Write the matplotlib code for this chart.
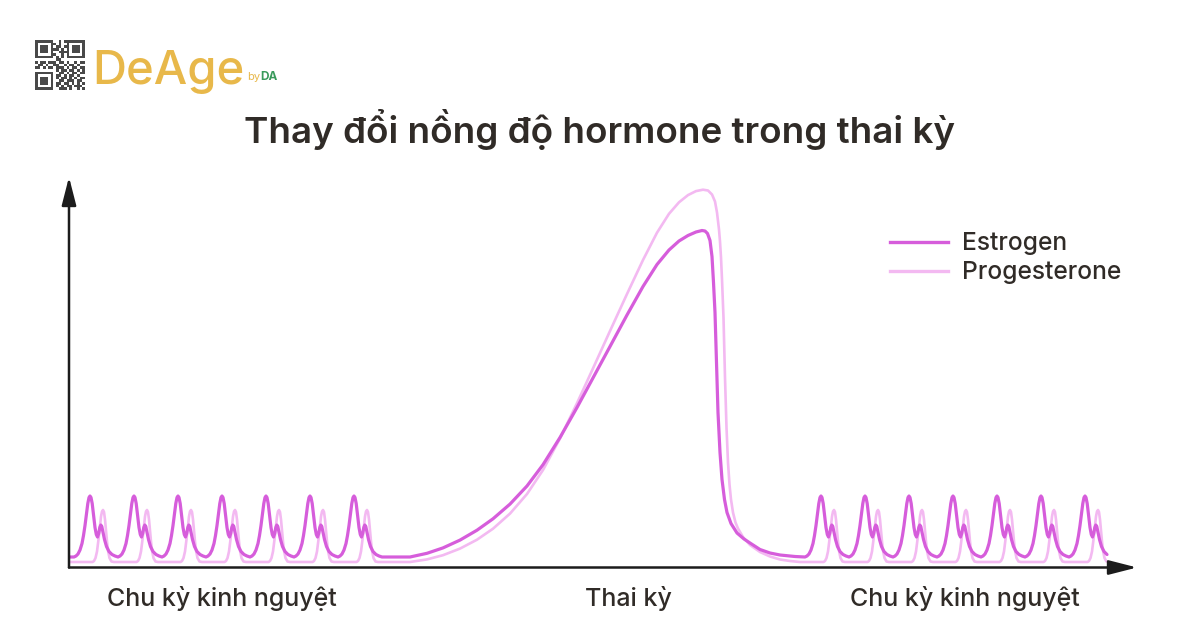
import numpy as np
import matplotlib
matplotlib.use("Agg")
import matplotlib.pyplot as plt

# chu ky kinh nguyet: hinh dang mot chu ky (dx tinh tu dinh estrogen)
cycle_dx_e = [-16, -14, -12, -10, -8, -6.5, -5, -3.5, -2.2, -1, 0, 1, 2.2, 3.5, 5, 6.3,
              7.5, 8.7, 9.8, 10.8, 11.8, 13, 14.5, 16.5, 19, 22, 25, 28]
cycle_e = [10.5, 11.5, 13.5, 17.5, 24, 32, 42, 54, 64, 70, 71.5, 70, 64, 53, 40, 33,
           30.5, 34, 40, 42.5, 41, 35, 28, 21, 16, 13, 11.5, 10.5]
cycle_dx_p = [-16, 2.5, 4, 5.5, 7, 8.5, 10, 11, 12, 13, 14, 15, 16, 17, 18, 19.5,
              21.5, 24, 28]
cycle_p = [5.5, 5.5, 6.5, 9.5, 16, 28, 42, 51, 56, 57.5, 55.5, 48, 37, 26, 17, 9.5,
           6, 5.5, 5.5]

# vi tri dinh estrogen cua tung chu ky
peaks_truoc = [21, 65, 109, 153, 197, 241, 285]
peaks_sau = [752, 796, 840, 884, 928, 972, 1016]
end_x = 1039

# thai ky
preg_x_e = [341, 358, 374, 391, 408, 424, 441, 458, 474, 491, 508, 524, 541, 558,
            574, 588, 600, 610, 619, 627, 633, 636, 638.5, 641, 643, 644.5, 646,
            647.5, 649, 651, 653, 655.5, 658, 662, 668, 675, 681, 691, 701, 711, 726]
preg_e = [10.5, 14.2, 19.6, 27.4, 37.3, 48.7, 63.4, 81.5, 102.8, 130, 160, 189.5,
          221, 252.5, 281, 303, 317.5, 326.5, 332, 335.5, 337, 336.5, 334, 327, 311,
          285, 255, 205, 155, 115, 88, 68, 55, 44, 34.5, 28.5, 24.5, 18, 14.5, 12.5, 11]
preg_x_p = [341, 358, 374, 391, 408, 424, 441, 458, 474, 491, 508, 524, 541, 558,
            574, 588, 600, 610, 619, 627, 634, 639, 643, 646, 648, 650, 651, 652, 653,
            654.5, 656, 657.5, 659, 660.5, 662, 664, 666.5, 669, 674, 681, 691, 701,
            711, 721, 731]
preg_p = [5.5, 8.1, 12.3, 18.9, 27.8, 38.8, 53.9, 73.5, 97.5, 129, 164.3, 199.1,
          236.5, 273.5, 307.5, 334.8, 353.7, 365.2, 372.4, 376.4, 377.8, 377, 373,
          366, 355, 338, 326, 310, 288, 250, 190, 140, 105, 83, 68, 55, 45, 39, 30.5,
          22.5, 15.5, 11, 8, 6.5, 5.5]

labels = ["Chu kỳ kinh nguyệt", "Thai kỳ", "Chu kỳ kinh nguyệt"]
title = "Thay đổi nồng độ hormone trong thai kỳ"

qr_rows = [
    "1111111001011111111",
    "1000001101001000001",
    "1011101011011011101",
    "1011101110101011101",
    "1011101001111011101",
    "1000001100101000001",
    "1111111010101111111",
    "0000000011000000000",
    "1011011101101001011",
    "0110100110010110100",
    "1101011011101011011",
    "0000000010110110101",
    "1111111001101011011",
    "1000001011010110100",
    "1011101010110101011",
    "1011101001101110110",
    "1011101011011010101",
    "1000001010101101110",
    "1111111001110100101",
]

C_E = "#d65ddb"
C_P = "#f3b9f1"
C_TXT = "#302b27"
FONT = ["Inter", "DejaVu Sans"]


def build(peaks, dx, shape, x0=None, y0=None, x_end=None):
    xs, ys = [], []
    if x0 is not None:
        xs.append(x0)
        ys.append(y0)
    for pk in peaks:
        for d, v in zip(dx, shape):
            x = pk + d
            if x_end is not None and x > x_end:
                break
            xs.append(x)
            ys.append(v)
    return xs, ys


ex1, ey1 = build(peaks_truoc, cycle_dx_e, cycle_e, 1, 10.5)
px1, py1 = build(peaks_truoc, cycle_dx_p, cycle_p, 1, 5.5)
ex2, ey2 = build(peaks_sau, cycle_dx_e, cycle_e, x_end=end_x)
px2, py2 = build(peaks_sau, cycle_dx_p, cycle_p, x_end=end_x - 1)

est_x = ex1 + preg_x_e + ex2
est_y = ey1 + preg_e + ey2
pro_x = px1 + preg_x_p + px2
pro_y = py1 + preg_p + py2

W, H = 1200, 628
fig = plt.figure(figsize=(12, 6.28), dpi=100)
fig.patch.set_facecolor("white")

ax = fig.add_axes([69 / W, 1 - 567.5 / H, (1137 - 69) / W, (567.5 - 177) / H])
ax.set_xlim(0, 1068)
ax.set_ylim(0, 390.5)
ax.axis("off")

ax.plot(pro_x, pro_y, color=C_P, lw=1.9, solid_joinstyle="round",
        solid_capstyle="round")
ax.plot(est_x, est_y, color=C_E, lw=2.3, solid_joinstyle="round",
        solid_capstyle="round")

arrow = dict(arrowstyle="-|>,head_length=0.86,head_width=0.22", mutation_scale=20,
             lw=1.8, color="#1c1c1c", shrinkA=0, shrinkB=0)
ax.annotate("", xy=(1068, 0), xytext=(0, 0), arrowprops=arrow, annotation_clip=False)
ax.annotate("", xy=(0, 390.5), xytext=(0, 0), arrowprops=arrow, annotation_clip=False)

# legend
ax.plot([821, 879], [325.5, 325.5], color=C_E, lw=2.4)
ax.plot([821, 879], [296.5, 296.5], color=C_P, lw=2.4)
fig.text(962 / W, 1 - 250 / H, "Estrogen", fontsize=17.7, color=C_TXT,
         family=FONT, fontweight="medium")
fig.text(962 / W, 1 - 279 / H, "Progesterone", fontsize=17.7, color=C_TXT,
         family=FONT, fontweight="medium")

# tieu de va nhan truc
fig.text(600 / W, 1 - 143 / H, title, ha="center", va="baseline", fontsize=26.5,
         color=C_TXT, family=FONT, fontweight="semibold")
for lx, lab in zip([222, 628, 965], labels):
    fig.text(lx / W, 1 - 606 / H, lab, ha="center", va="baseline", fontsize=18,
             color=C_TXT, family=FONT, fontweight="medium")

# logo
qr = np.array([[int(c) for c in r] for r in qr_rows])
axq = fig.add_axes([35 / W, 1 - 90 / H, 50 / W, 50 / H])
axq.imshow(qr, cmap="gray_r", interpolation="nearest", vmin=0, vmax=1.4)
axq.axis("off")
fig.text(92 / W, 1 - 84 / H, "DeAge", fontsize=34, color="#e8b84a", family=FONT,
         fontweight="medium", va="baseline")
fig.text(247 / W, 1 - 80 / H, "by", fontsize=8, color="#e8b84a", family=FONT,
         va="baseline")
fig.text(260 / W, 1 - 80 / H, "DA", fontsize=8.5, color="#3a9a5b", family=FONT,
         fontweight="bold", va="baseline")

fig.savefig("out.png", dpi=100, facecolor="white")
